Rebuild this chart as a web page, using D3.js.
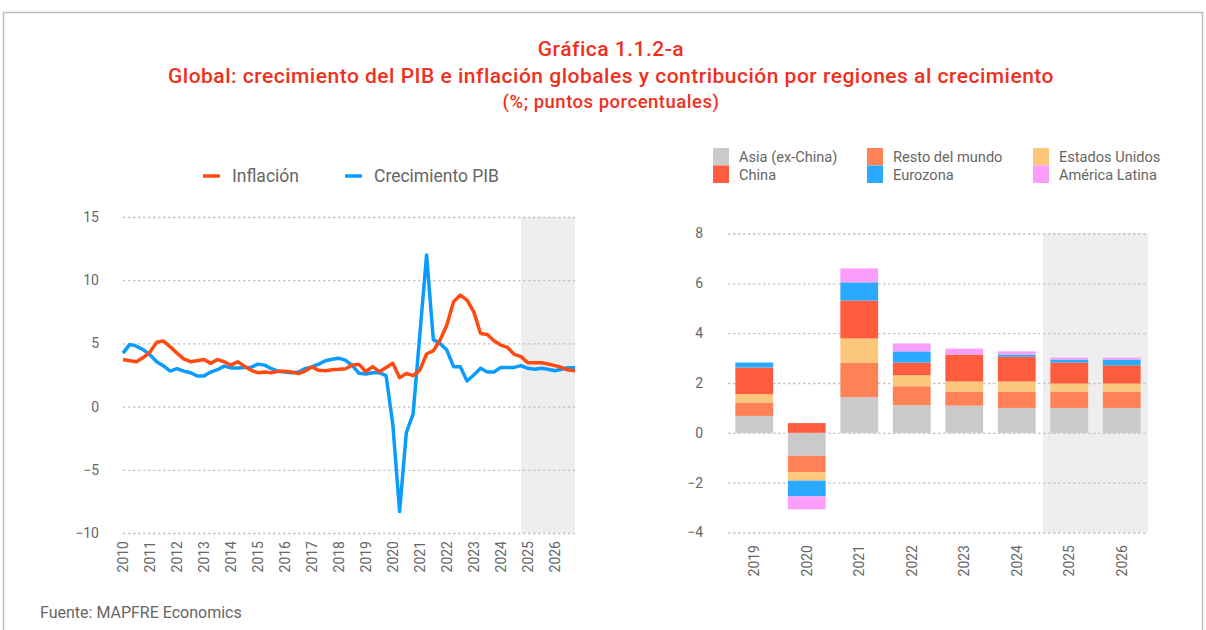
<!DOCTYPE html>
<html>
<head>
<meta charset="utf-8">
<script src="https://cdn.jsdelivr.net/npm/d3@7"></script>
<style>
  body { margin: 0; background: #fff; }
  text { font-family: Roboto, "Open Sans", sans-serif; }
</style>
</head>
<body>
<div id="main-canvas"></div>
<script>
// Data
const years = d3.range(2010, 2027).map(String);
// quarterly values 2010Q1 .. 2026Q4
const gdpGrowth = [4.23, 4.92, 4.78, 4.5, 4.1, 3.55, 3.22, 2.81, 3.0, 2.81, 2.68, 2.43, 2.43, 2.73, 2.92, 3.2,
  3.06, 3.06, 3.09, 3.11, 3.36, 3.28, 3.0, 2.79, 2.73, 2.68, 2.73, 3.0, 3.14, 3.36, 3.63, 3.74,
  3.83, 3.66, 3.24, 2.63, 2.58, 2.68, 2.68, 2.45, -1.45, -8.3, -2.05, -0.6, 5.7, 12.0, 5.3, 5.0,
  4.47, 3.16, 3.16, 2.03, 2.5, 3.03, 2.74, 2.74, 3.1, 3.1, 3.1, 3.24, 3.03, 2.95, 3.03, 2.95,
  2.84, 2.95, 3.08, 3.08];
const inflation = [3.72, 3.63, 3.55, 3.88, 4.32, 5.1, 5.19, 4.73, 4.23, 3.77, 3.55, 3.63, 3.72, 3.42, 3.72, 3.55,
  3.28, 3.55, 3.2, 2.87, 2.68, 2.73, 2.68, 2.79, 2.79, 2.73, 2.62, 2.81, 3.14, 2.87, 2.84, 2.92,
  2.95, 3.0, 3.29, 3.34, 2.76, 3.16, 2.76, 3.1, 3.42, 2.29, 2.63, 2.45, 2.89, 4.16, 4.42, 5.26,
  6.45, 8.29, 8.82, 8.42, 7.5, 5.79, 5.71, 5.21, 4.87, 4.68, 4.13, 3.95, 3.47, 3.47, 3.47, 3.37,
  3.24, 3.1, 2.89, 2.84];
const forecastStart = 2024.75;

const barYears = ["2019", "2020", "2021", "2022", "2023", "2024", "2025", "2026"];
const asia  = [0.68, -0.92, 1.43, 1.11, 1.09, 1.0, 1.0, 1.0];
const resto = [0.54, -0.66, 1.39, 0.76, 0.57, 0.66, 0.66, 0.66];
const usa   = [0.33, -0.34, 0.97, 0.44, 0.40, 0.40, 0.32, 0.32];
const china = [1.07, 0.39, 1.52, 0.51, 1.08, 0.99, 0.84, 0.73];
const euro  = [0.20, -0.63, 0.73, 0.45, 0.0, 0.09, 0.12, 0.23];
const latam = [0.0, -0.52, 0.56, 0.32, 0.24, 0.13, 0.08, 0.08];
const leftTicks = [15, 10, 5, 0, -5, -10];
const rightTicks = [8, 6, 4, 2, 0, -2, -4];

const width = 1206, height = 630;
const red = "#f0301c", gridColor = "#c4c4c4", textColor = "#666";

let svg = d3.select("#main-canvas").append("svg")
    .attr("width", width)
    .attr("height", height);

// frame
svg.append("rect").attr("x", 3.5).attr("y", 12.5).attr("width", 1199).attr("height", 640)
    .attr("fill", "none").attr("stroke", "#bdbdbd").attr("stroke-width", 1.5);

// titles
const titles = [
  { t: "Gráfica 1.1.2-a", y: 56, s: 21 },
  { t: "Global: crecimiento del PIB e inflación globales y contribución por regiones al crecimiento", y: 83, s: 21 },
  { t: "(%; puntos porcentuales)", y: 108, s: 18.5 }
];
svg.selectAll(".title").data(titles).enter().append("text")
    .attr("x", 611).attr("y", d => d.y)
    .attr("text-anchor", "middle").attr("fill", red)
    .attr("font-weight", 500).attr("font-size", d => d.s)
    .attr("letter-spacing", 0.5)
    .text(d => d.t);

svg.append("text").attr("x", 40).attr("y", 618).attr("font-size", 16).attr("fill", textColor)
    .text("Fuente: MAPFRE Economics");

// ---------- Left chart: lines ----------
let x = d3.scaleLinear().domain([2010, 2026.75]).range([123, 575]);
let y = d3.scaleLinear().domain([-10, 15]).range([533, 217]);
const quarterT = gdpGrowth.map((v, i) => 2010 + i / 4);

let left = svg.append("g");
left.append("rect")
    .attr("x", x(forecastStart)).attr("y", y(15))
    .attr("width", x(2026.75) - x(forecastStart)).attr("height", y(-10) - y(15))
    .attr("fill", "#eeeeee");

left.append("g").attr("transform", "translate(123,0)")
    .call(d3.axisLeft(y).tickValues(leftTicks).tickSize(-(575 - 123)).tickFormat(d3.format("d")))
    .call(g => g.select(".domain").remove())
    .call(g => g.selectAll(".tick line").attr("stroke", gridColor).attr("stroke-width", 1.3).attr("stroke-dasharray", "2.5,2.5"))
    .call(g => g.selectAll(".tick text").attr("x", -24).attr("font-size", 14).attr("fill", textColor));

left.append("g").attr("transform", "translate(0,540)")
    .call(d3.axisBottom(x).tickValues(years.map(Number)).tickSize(0).tickFormat(d3.format("d")))
    .call(g => g.select(".domain").remove())
    .call(g => g.selectAll(".tick text")
        .attr("transform", "rotate(-90)").attr("text-anchor", "end")
        .attr("x", -1).attr("y", 0).attr("dy", "0.35em")
        .attr("font-size", 14).attr("fill", textColor));

let line = d3.line().x((d, i) => x(quarterT[i])).y(d => y(d));
left.append("path").datum(gdpGrowth).attr("d", line)
    .attr("fill", "none").attr("stroke", "#0a9bff").attr("stroke-width", 3.5).attr("stroke-linejoin", "round");
left.append("path").datum(inflation).attr("d", line)
    .attr("fill", "none").attr("stroke", "#ff4a10").attr("stroke-width", 3.5).attr("stroke-linejoin", "round");

const lineLegend = [
  { name: "Inflación", color: "#ff4a10", x: 203 },
  { name: "Crecimiento PIB", color: "#0a9bff", x: 345 }
];
let ll = left.selectAll(".lleg").data(lineLegend).enter().append("g");
ll.append("line").attr("x1", d => d.x).attr("x2", d => d.x + 17).attr("y1", 176).attr("y2", 176)
    .attr("stroke", d => d.color).attr("stroke-width", 3.5);
ll.append("text").attr("x", d => d.x + 29).attr("y", 176).attr("dy", "0.35em")
    .attr("font-size", 17.5).attr("fill", textColor).text(d => d.name);

// ---------- Right chart: stacked bars ----------
const series = [
  { key: "asia", name: "Asia (ex-China)", color: "#cacaca", values: asia },
  { key: "resto", name: "Resto del mundo", color: "#ff8257", values: resto },
  { key: "usa", name: "Estados Unidos", color: "#fac77b", values: usa },
  { key: "china", name: "China", color: "#ff5b3d", values: china },
  { key: "euro", name: "Eurozona", color: "#2ba8ff", values: euro },
  { key: "latam", name: "América Latina", color: "#fb9efb", values: latam }
];
const table = barYears.map((yr, i) => {
  let row = { year: yr };
  series.forEach(s => row[s.key] = s.values[i]);
  return row;
});

let xb = d3.scaleBand().domain(barYears).range([728, 1148]).paddingInner(0.28).paddingOuter(0.14);
let yb = d3.scaleLinear().domain([-4, 8]).range([532.5, 233.5]);

let right = svg.append("g");
right.append("rect")
    .attr("x", 1043).attr("y", yb(8))
    .attr("width", 1148 - 1043).attr("height", yb(-4) - yb(8))
    .attr("fill", "#eeeeee");

right.append("g").attr("transform", "translate(728,0)")
    .call(d3.axisLeft(yb).tickValues(rightTicks).tickSize(-(1148 - 728)).tickFormat(d3.format("d")))
    .call(g => g.select(".domain").remove())
    .call(g => g.selectAll(".tick line").attr("stroke", gridColor).attr("stroke-width", 1.3).attr("stroke-dasharray", "2.5,2.5"))
    .call(g => g.selectAll(".tick text").attr("x", -25).attr("font-size", 14).attr("fill", textColor));

let stack = d3.stack().keys(series.map(s => s.key)).offset(d3.stackOffsetDiverging);
let stacked = stack(table);

right.append("g").selectAll("g").data(stacked).enter().append("g")
    .attr("fill", (d, i) => series[i].color)
    .selectAll("rect").data(d => d).enter().append("rect")
    .attr("x", d => xb(d.data.year))
    .attr("width", xb.bandwidth())
    .attr("y", d => yb(Math.max(d[0], d[1])))
    .attr("height", d => Math.abs(yb(d[0]) - yb(d[1])));

right.append("g").attr("transform", "translate(0,544)")
    .call(d3.axisBottom(xb).tickSize(0))
    .call(g => g.select(".domain").remove())
    .call(g => g.selectAll(".tick text")
        .attr("transform", "rotate(-90)").attr("text-anchor", "end")
        .attr("x", -1).attr("y", 0).attr("dy", "0.35em")
        .attr("font-size", 14).attr("fill", textColor));

// legend: two rows, three columns
const legCols = [713, 867, 1033];
let lg = right.selectAll(".bleg").data(series).enter().append("g")
    .attr("transform", (d, i) => {
      const col = [0, 1, 2, 0, 1, 2][i], row = i < 3 ? 0 : 1;
      return "translate(" + legCols[col] + "," + (148 + row * 17.5) + ")";
    });
lg.append("rect").attr("width", 16).attr("height", 17.5).attr("fill", d => d.color);
lg.append("text").attr("x", 26).attr("y", 9).attr("dy", "0.35em")
    .attr("font-size", 14.6).attr("fill", textColor).text(d => d.name);
</script>
</body>
</html>
